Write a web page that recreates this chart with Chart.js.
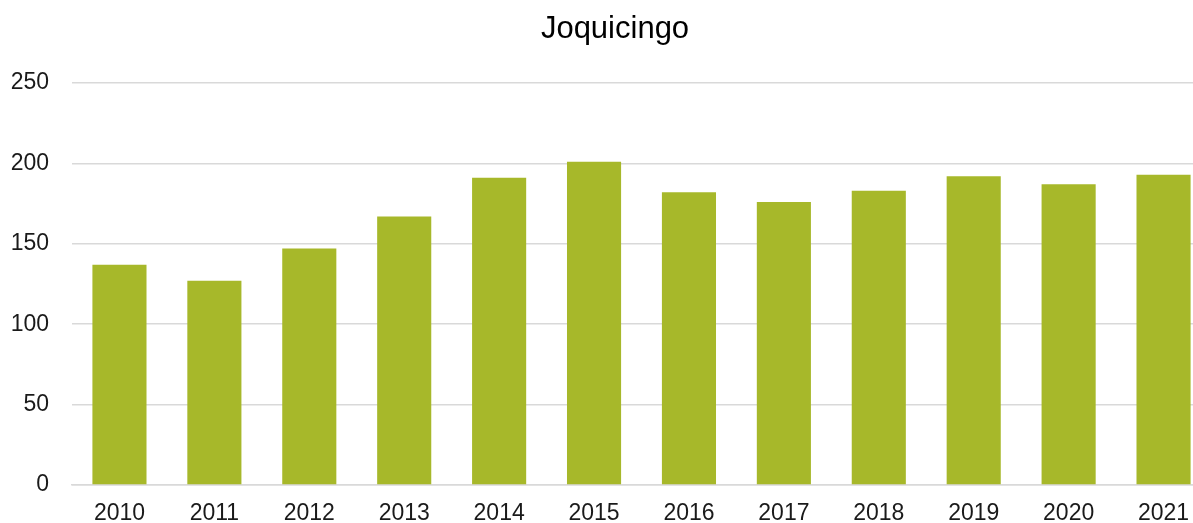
<!DOCTYPE html>
<html>
<head>
<meta charset="utf-8">
<script src="https://cdn.jsdelivr.net/npm/chart.js@4"></script>
<style>
  html, body { margin: 0; padding: 0; background: #fff; overflow: hidden; }
  canvas { display: block; }
</style>
</head>
<body>
<canvas id="chart" width="1230" height="523"></canvas>
<script>
// anos e valores
const years = ['2010', '2011', '2012', '2013', '2014', '2015', '2016', '2017', '2018', '2019', '2020', '2021'];
const values = [137, 127, 147, 167, 191, 201, 182, 176, 183, 192, 187, 193];
const yTicks = [0, 50, 100, 150, 200, 250];
const chartTitle = 'Joquicingo';

const font = "'Liberation Sans', Arial, sans-serif";

// título desenhado à mão: o gráfico original está cortado à direita,
// então o centro do título fica deslocado em relação ao canvas
const titlePlugin = {
    id: 'centeredTitle',
    afterDraw(chart) {
        const c = chart.ctx;
        c.save();
        c.font = '31px ' + font;
        c.fillStyle = '#000';
        c.textAlign = 'center';
        c.textBaseline = 'middle';
        c.fillText(chartTitle, 615, 29);
        c.restore();
    }
};

const ctx = document.getElementById('chart').getContext('2d');
window.myChart = new Chart(ctx, {
    type: 'bar',
    data: {
        labels: years,
        datasets: [{
            label: chartTitle,
            data: values,
            backgroundColor: '#a7b82a',
            borderWidth: 0,
            categoryPercentage: 1,
            barPercentage: 0.57
        }]
    },
    options: {
        responsive: false,
        animation: false,
        devicePixelRatio: 1,
        layout: { padding: { left: 0, right: 19, top: 83, bottom: 0 } },
        plugins: {
            legend: { display: false },
            tooltip: { enabled: false },
            title: { display: false }
        },
        scales: {
            x: {
                grid: { display: false, drawTicks: false },
                border: { display: true, color: '#d9d9d9', width: 1.5 },
                ticks: {
                    color: '#1a1a1a',
                    font: { family: font, size: 23 },
                    padding: 15,
                    maxRotation: 0,
                    autoSkip: false
                },
                afterFit: function(scale) { scale.height = 38; }
            },
            y: {
                min: 0,
                max: 250,
                afterBuildTicks: function(scale) {
                    scale.ticks = yTicks.map(v => ({ value: v }));
                },
                grid: { color: '#d9d9d9', lineWidth: 1.5, drawTicks: false },
                border: { display: false },
                ticks: {
                    color: '#1a1a1a',
                    font: { family: font, size: 23 },
                    padding: 23
                },
                afterFit: function(scale) { scale.width = 72; }
            }
        }
    },
    plugins: [titlePlugin]
});
</script>
</body>
</html>
